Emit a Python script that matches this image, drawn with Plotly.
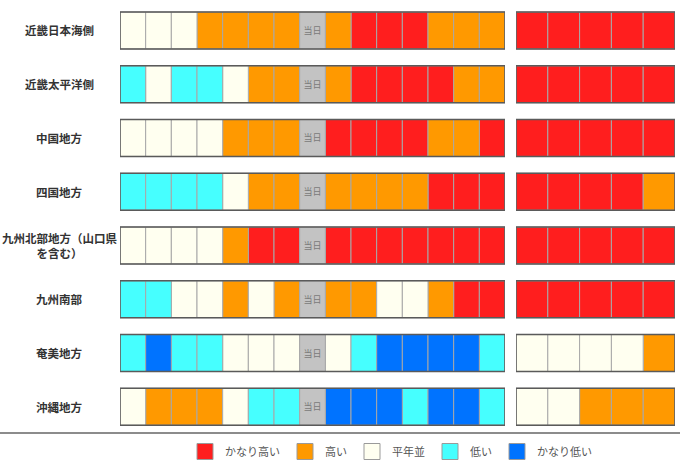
import plotly.graph_objects as go

# regions (top to bottom)
regions = ["近畿日本海側", "近畿太平洋側", "中国地方", "四国地方",
           "九州北部地方（山口県<br>を含む）", "九州南部", "奄美地方", "沖縄地方"]

# levels: 2=かなり高い 1=高い 0=平年並 -1=低い -2=かなり低い, None = 当日
left_cells = [
    [0, 0, 0, 1, 1, 1, 1, None, 1, 2, 2, 2, 1, 1, 1],
    [-1, 0, -1, -1, 0, 1, 1, None, 1, 2, 2, 2, 2, 1, 1],
    [0, 0, 0, 0, 1, 1, 1, None, 2, 2, 2, 2, 1, 1, 2],
    [-1, -1, -1, -1, 0, 1, 1, None, 1, 1, 1, 1, 2, 2, 2],
    [0, 0, 0, 0, 1, 2, 2, None, 2, 2, 2, 2, 2, 2, 2],
    [-1, -1, 0, 0, 1, 0, 1, None, 1, 1, 0, 0, 1, 2, 2],
    [-1, -2, -1, -1, 0, 0, 0, None, 0, -1, -2, -2, -2, -2, -1],
    [0, 1, 1, 1, 0, -1, -1, None, -2, -2, -2, -1, -2, -2, -1],
]
right_cells = [
    [2, 2, 2, 2, 2],
    [2, 2, 2, 2, 2],
    [2, 2, 2, 2, 2],
    [2, 2, 2, 2, 1],
    [2, 2, 2, 2, 2],
    [2, 2, 2, 2, 2],
    [0, 0, 0, 0, 1],
    [0, 0, 1, 1, 1],
]

levels = [2, 1, 0, -1, -2]
level_names = ["かなり高い", "高い", "平年並", "低い", "かなり低い"]
level_colors = ["#ff1e1e", "#ff9900", "#fffff0", "#46ffff", "#0073ff"]
today_label = "当日"

BAR_W = 0.687
CELL_LINE = dict(color="#a8a8a8", width=1)

fig = go.Figure()


def add_block(cells, xaxis):
    for lv, name, col in zip(levels, level_names, level_colors):
        ys, bases = [], []
        for r, row in enumerate(cells):
            for c, v in enumerate(row):
                if v == lv:
                    ys.append(r)
                    bases.append(c)
        if not ys:
            continue
        fig.add_trace(go.Bar(
            orientation="h", y=ys, x=[1] * len(ys), base=bases, width=BAR_W,
            marker=dict(color=col, line=CELL_LINE), xaxis=xaxis, yaxis="y",
            showlegend=False, hoverinfo="skip"))
    # today cells
    ys, bases = [], []
    for r, row in enumerate(cells):
        for c, v in enumerate(row):
            if v is None:
                ys.append(r)
                bases.append(c)
    if ys:
        fig.add_trace(go.Bar(
            orientation="h", y=ys, x=[1] * len(ys), base=bases, width=BAR_W,
            marker=dict(color="#c3c3c3", line=CELL_LINE),
            text=[today_label] * len(ys), textposition="inside",
            insidetextanchor="middle", constraintext="none",
            textfont=dict(color="#7a7a7a", size=9,
                          family="Noto Sans CJK JP"),
            xaxis=xaxis, yaxis="y", showlegend=False, hoverinfo="skip"))
    # outer border of each row
    n = len(cells[0])
    fig.add_trace(go.Bar(
        orientation="h", y=list(range(len(cells))), x=[n] * len(cells),
        base=[0] * len(cells), width=BAR_W,
        marker=dict(color="rgba(0,0,0,0)", line=dict(color="#5a5a5a", width=1.5)),
        xaxis=xaxis, yaxis="y", showlegend=False, hoverinfo="skip"))


add_block(left_cells, "x")
add_block(right_cells, "x2")

# legend entries
for name, col in zip(level_names, level_colors):
    fig.add_trace(go.Scatter(
        x=[None], y=[None], mode="markers", name=name,
        marker=dict(symbol="square", size=16, color=col,
                    line=dict(color="#9a9a9a", width=1))))

# region labels
for r, name in enumerate(regions):
    fig.add_annotation(x=59 / 680, xref="paper", y=r, yref="y", text=f"<b>{name}</b>",
                       showarrow=False, xanchor="center", yanchor="middle",
                       align="center",
                       font=dict(size=11.5, color="#333333", family="Noto Sans CJK JP"))

H = 466
fig.update_layout(
    width=680, height=H,
    margin=dict(l=0, r=0, t=0, b=0),
    paper_bgcolor="white", plot_bgcolor="white",
    barmode="overlay",
    font=dict(family="Noto Sans CJK JP", size=11, color="#555"),
    xaxis=dict(domain=[120 / 680, 505 / 680], range=[0, 15], visible=False,
               fixedrange=True),
    xaxis2=dict(domain=[516 / 680, 675 / 680], range=[0, 5], visible=False,
                anchor="y", fixedrange=True),
    yaxis=dict(domain=[1 - 434.6 / H, 1 - 3.6 / H], range=[7.5, -0.5],
               visible=False, fixedrange=True),
    showlegend=True,
    legend=dict(orientation="h", x=391 / 680, xanchor="center",
                y=1 - 452 / H, yanchor="middle",
                font=dict(size=11, color="#555"),
                itemsizing="trace", bgcolor="rgba(0,0,0,0)"),
    shapes=[dict(type="line", xref="paper", yref="paper", x0=0, x1=1,
                 y0=1 - 434 / H, y1=1 - 434 / H,
                 line=dict(color="#666666", width=1.5))],
)

fig.write_html("out.html", config={"displayModeBar": False},
               post_script="document.body.style.margin='0px';")
